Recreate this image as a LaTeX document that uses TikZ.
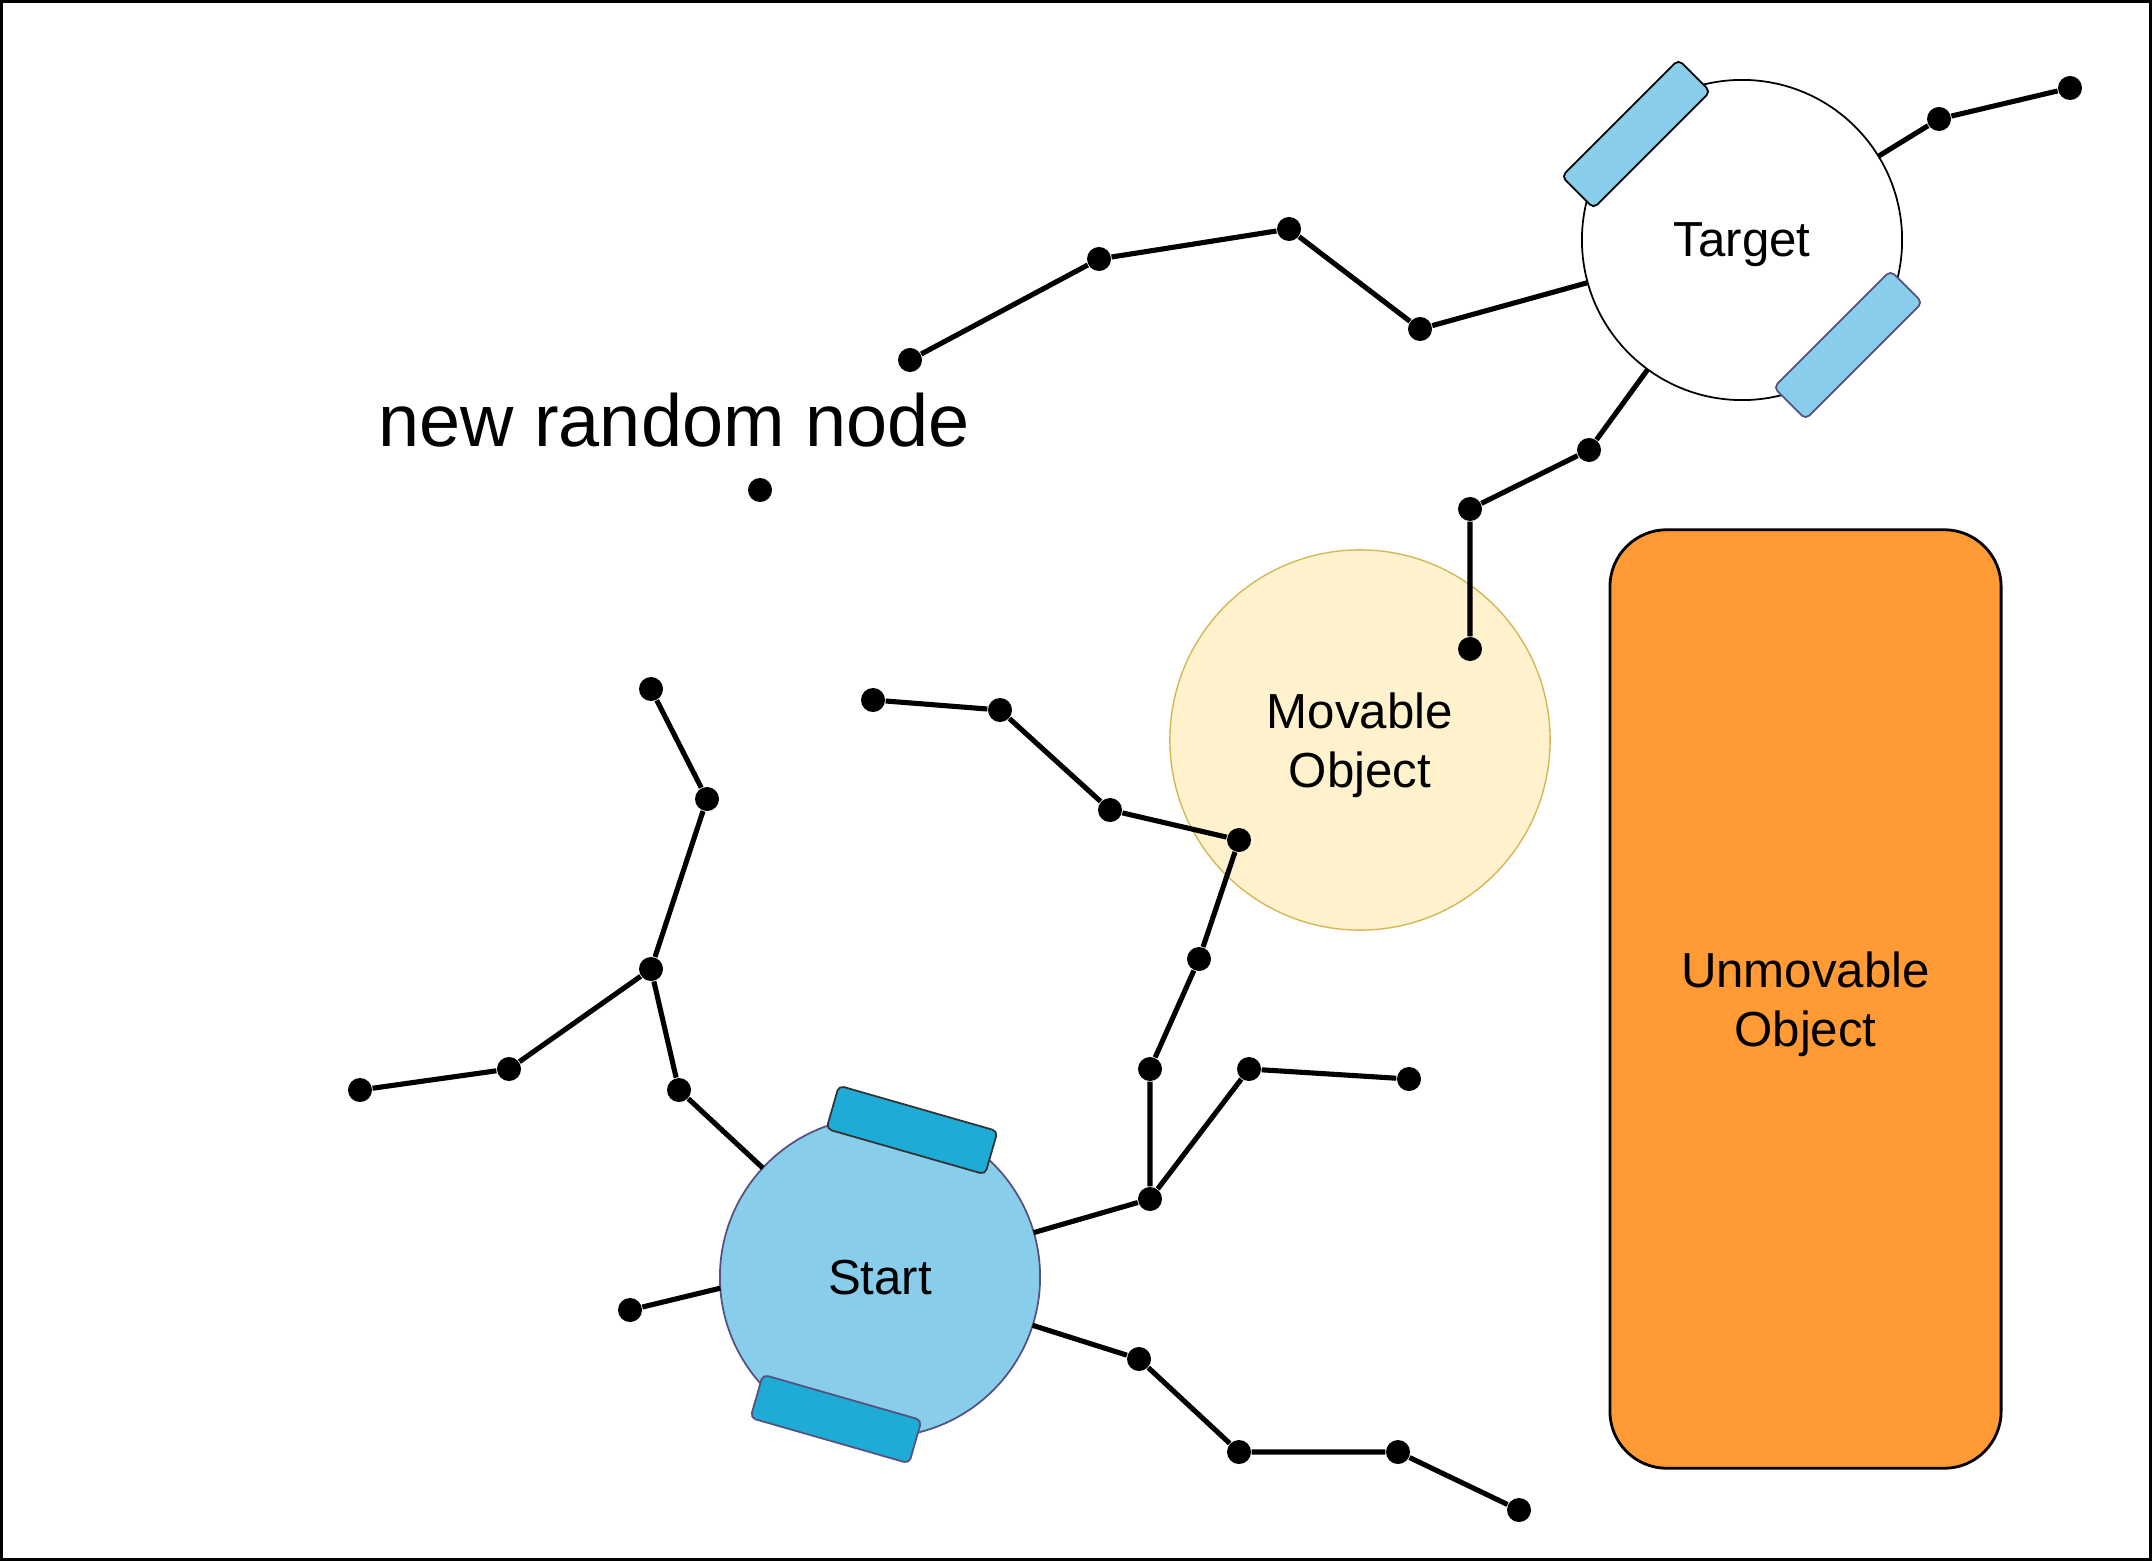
\documentclass[tikz,border=0pt]{standalone}
\usepackage{fontspec}
\setmainfont{Liberation Sans}
\definecolor{startblue}{HTML}{88CDEA}
\definecolor{wheeldark}{HTML}{1EABD6}
\definecolor{slate}{HTML}{56517E}
\definecolor{movfill}{HTML}{FFF2CC}
\definecolor{movline}{HTML}{D6B656}
\definecolor{unmov}{HTML}{FF9A35}
\tikzset{
  treedot/.style={circle, fill=black, inner sep=0pt, minimum size=0.24cm},
  branch/.style={line width=1.45pt},
  robot/.style={circle, inner sep=0pt, outer sep=0pt, minimum size=3.2cm, line width=0.5pt},
  wheel/.style={rectangle, rounded corners=1.5pt, inner sep=0pt, minimum width=1.65cm, minimum height=0.45cm, line width=0.5pt},
  label14/.style={font=\fontsize{14pt}{16.8pt}\selectfont, align=center, text depth=0pt}
}
\begin{document}
\begin{tikzpicture}[x=0.01cm, y=-0.01cm]
\useasboundingbox (0,0) rectangle (2152,1561);
\draw[line width=1pt] (1.5,1.5) rectangle (2150.5,1559.5);
% Obstacles
\node[draw=black, fill=unmov, rounded corners=0.57cm, minimum width=3.91cm, minimum height=9.38cm, line width=0.8pt, label14] (U) at (1805.5,999) {Unmovable\\Object};
\node[circle, draw=movline, fill=movfill, minimum size=3.8cm, inner sep=0pt, label14] (M) at (1360,740) {Movable\\Object};
% Robots
\node[robot, draw=slate, fill=startblue, label14] (S) at (880,1277) {Start};
\node[wheel, draw=black!80, fill=wheeldark, rotate=-16] (S1) at (912,1130) {};
\node[wheel, draw=slate, fill=wheeldark, rotate=-16] (S2) at (836,1419) {};
\node[robot, draw=black, fill=white, label14] (T) at (1742,240) {Target};
\node[wheel, draw=black, fill=startblue, rotate=45] (T1) at (1636,134) {};
\node[wheel, draw=slate, fill=startblue, rotate=45] (T2) at (1848,345) {};
% Tree nodes
\node[treedot] (a1) at (910,360) {};
\node[treedot] (a2) at (1099,259) {};
\node[treedot] (a3) at (1289,229) {};
\node[treedot] (a4) at (1420,329) {};
\node[treedot] (a5) at (1939,119) {};
\node[treedot] (a6) at (2070,88) {};
\node[treedot] (a7) at (1589,450) {};
\node[treedot] (a8) at (1470,509) {};
\node[treedot] (a9) at (1470,649) {};
\node[treedot] (b1) at (873,700) {};
\node[treedot] (b2) at (1000,710) {};
\node[treedot] (b3) at (1110,810) {};
\node[treedot] (b4) at (1239,840) {};
\node[treedot] (b5) at (1199,959) {};
\node[treedot] (b6) at (1150,1069) {};
\node[treedot] (b7) at (1150,1199) {};
\node[treedot] (b8) at (1249,1069) {};
\node[treedot] (b9) at (1409,1079) {};
\node[treedot] (c1) at (651,689) {};
\node[treedot] (c2) at (707,799) {};
\node[treedot] (c3) at (651,969) {};
\node[treedot] (c4) at (509,1069) {};
\node[treedot] (c5) at (360,1090) {};
\node[treedot] (c6) at (679,1090) {};
\node[treedot] (c7) at (630,1310) {};
\node[treedot] (g1) at (1139,1359) {};
\node[treedot] (g2) at (1239,1452) {};
\node[treedot] (g3) at (1398,1452) {};
\node[treedot] (g4) at (1519,1510) {};
% New sample
\node[treedot] (r) at (760,490) {};
\node[font=\fontsize{21pt}{25pt}\selectfont, anchor=base] (rlabel) at (674,446) {new random node};
% Branches
\draw[branch] (a1) -- (a2) -- (a3) -- (a4) -- (T);
\draw[branch] (T) -- (a5) -- (a6);
\draw[branch] (T) -- (a7) -- (a8) -- (a9);
\draw[branch] (b1) -- (b2) -- (b3) -- (b4) -- (b5) -- (b6) -- (b7) -- (S);
\draw[branch] (b7) -- (b8) -- (b9);
\draw[branch] (c1) -- (c2) -- (c3) -- (c4) -- (c5);
\draw[branch] (c3) -- (c6) -- (S);
\draw[branch] (c7) -- (S.184);
\draw[branch] (S) -- (g1) -- (g2) -- (g3) -- (g4);
\end{tikzpicture}
\end{document}
